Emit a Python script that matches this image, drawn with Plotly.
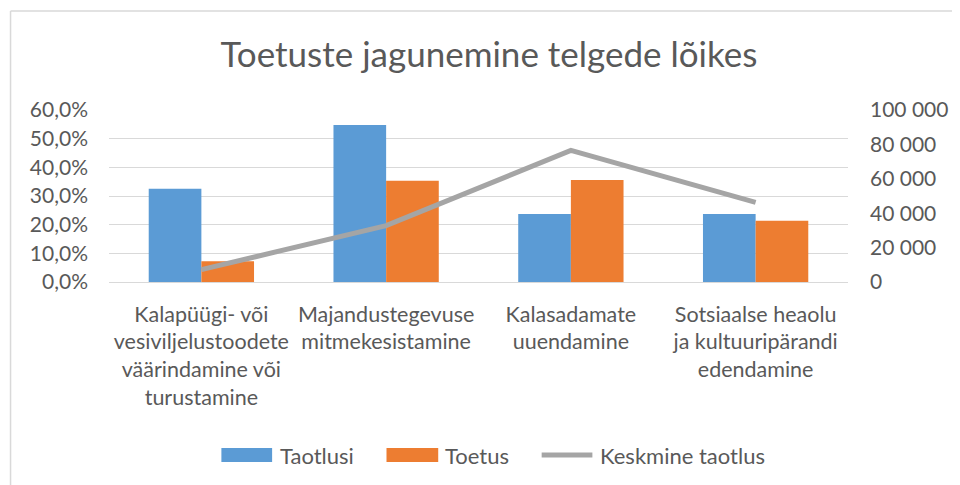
import plotly.graph_objects as go

categories = [
    "Kalapüügi- või<br>vesiviljelustoodete<br>väärindamine või<br>turustamine",
    "Majandustegevuse<br>mitmekesistamine",
    "Kalasadamate<br>uuendamine",
    "Sotsiaalse heaolu<br>ja kultuuripärandi<br>edendamine",
]
series_names = ["Taotlusi", "Toetus", "Keskmine taotlus"]
taotlusi = [0.325, 0.548, 0.237, 0.237]
toetus = [0.072, 0.353, 0.356, 0.214]
keskmine_taotlus = [7200, 32800, 76500, 46300]

left_ticks = [0, 0.1, 0.2, 0.3, 0.4, 0.5, 0.6]
right_ticks = [0, 20000, 40000, 60000, 80000, 100000]

TXT = "#595959"
FONT = "Lato"
BLUE, ORANGE, GRAY = "#5B9BD5", "#ED7D31", "#A5A5A5"

fig = go.Figure()
fig.add_trace(go.Bar(x=categories, y=taotlusi, name=series_names[0],
                     marker=dict(color=BLUE, line=dict(width=0))))
fig.add_trace(go.Bar(x=categories, y=toetus, name=series_names[1],
                     marker=dict(color=ORANGE, line=dict(width=0))))
fig.add_trace(go.Scatter(x=categories, y=keskmine_taotlus, name=series_names[2],
                         mode="lines", yaxis="y2",
                         line=dict(color=GRAY, width=5)))

# figure is offset by the 8px page margin
W, H = 952, 477
L, R, T, B = 101, 108, 102, 203
pw = W - L - R
ph = H - T - B


def px_x(p):
    return (p - L) / pw


def px_y(p):
    return (H - B - p) / ph


LEG_Y = 447
shapes = [
    dict(type="line", xref="paper", yref="paper",
         x0=px_x(2), x1=px_x(970), y0=px_y(3), y1=px_y(3),
         line=dict(color="#D9D9D9", width=1.5)),
    dict(type="line", xref="paper", yref="paper",
         x0=px_x(2), x1=px_x(2), y0=px_y(3), y1=px_y(490),
         line=dict(color="#D9D9D9", width=1.5)),
    # legend swatches
    dict(type="rect", xref="paper", yref="paper",
         x0=px_x(214), x1=px_x(265), y0=px_y(LEG_Y - 7), y1=px_y(LEG_Y + 7),
         fillcolor=BLUE, line=dict(width=0)),
    dict(type="rect", xref="paper", yref="paper",
         x0=px_x(380), x1=px_x(432), y0=px_y(LEG_Y - 7), y1=px_y(LEG_Y + 7),
         fillcolor=ORANGE, line=dict(width=0)),
    dict(type="line", xref="paper", yref="paper",
         x0=px_x(536), x1=px_x(587), y0=px_y(LEG_Y), y1=px_y(LEG_Y),
         line=dict(color=GRAY, width=5)),
]

annotations = []
for name, xs in zip(series_names, [271, 437, 593]):
    annotations.append(dict(text=name, xref="paper", yref="paper",
                            x=px_x(xs), y=px_y(LEG_Y), xanchor="left",
                            yanchor="middle", showarrow=False,
                            font=dict(size=22, color=TXT, family=FONT)))

fig.update_layout(
    width=W, height=H,
    margin=dict(l=L, r=R, t=T, b=B),
    paper_bgcolor="white", plot_bgcolor="white",
    separators=", ",
    font=dict(family=FONT, color=TXT, size=21),
    title=dict(text="Toetuste jagunemine telgede lõikes",
               x=px_x(483), xref="paper", xanchor="center",
               y=1 - 47 / H, yanchor="middle",
               font=dict(size=35, color=TXT, family=FONT)),
    barmode="group", bargap=0.43, bargroupgap=0,
    xaxis=dict(showgrid=False, showline=False, ticks="",
               tickfont=dict(size=21.5, color=TXT), ticklabelstandoff=17),
    yaxis=dict(range=[0, 0.6], tickvals=left_ticks, tickformat=".1%",
               showgrid=True, gridcolor="#D9D9D9", gridwidth=1,
               zeroline=True, zerolinecolor="#D9D9D9", zerolinewidth=1,
               showline=False, ticks="", ticklabelstandoff=20,
               tickfont=dict(size=21, color=TXT)),
    yaxis2=dict(range=[0, 100000], tickvals=right_ticks, tickformat=",d",
                overlaying="y", side="right", showgrid=False, zeroline=False,
                showline=False, ticks="", ticklabelstandoff=21,
                tickfont=dict(size=21, color=TXT)),
    showlegend=False,
    shapes=shapes,
    annotations=annotations,
)

fig.write_html("out.html")
